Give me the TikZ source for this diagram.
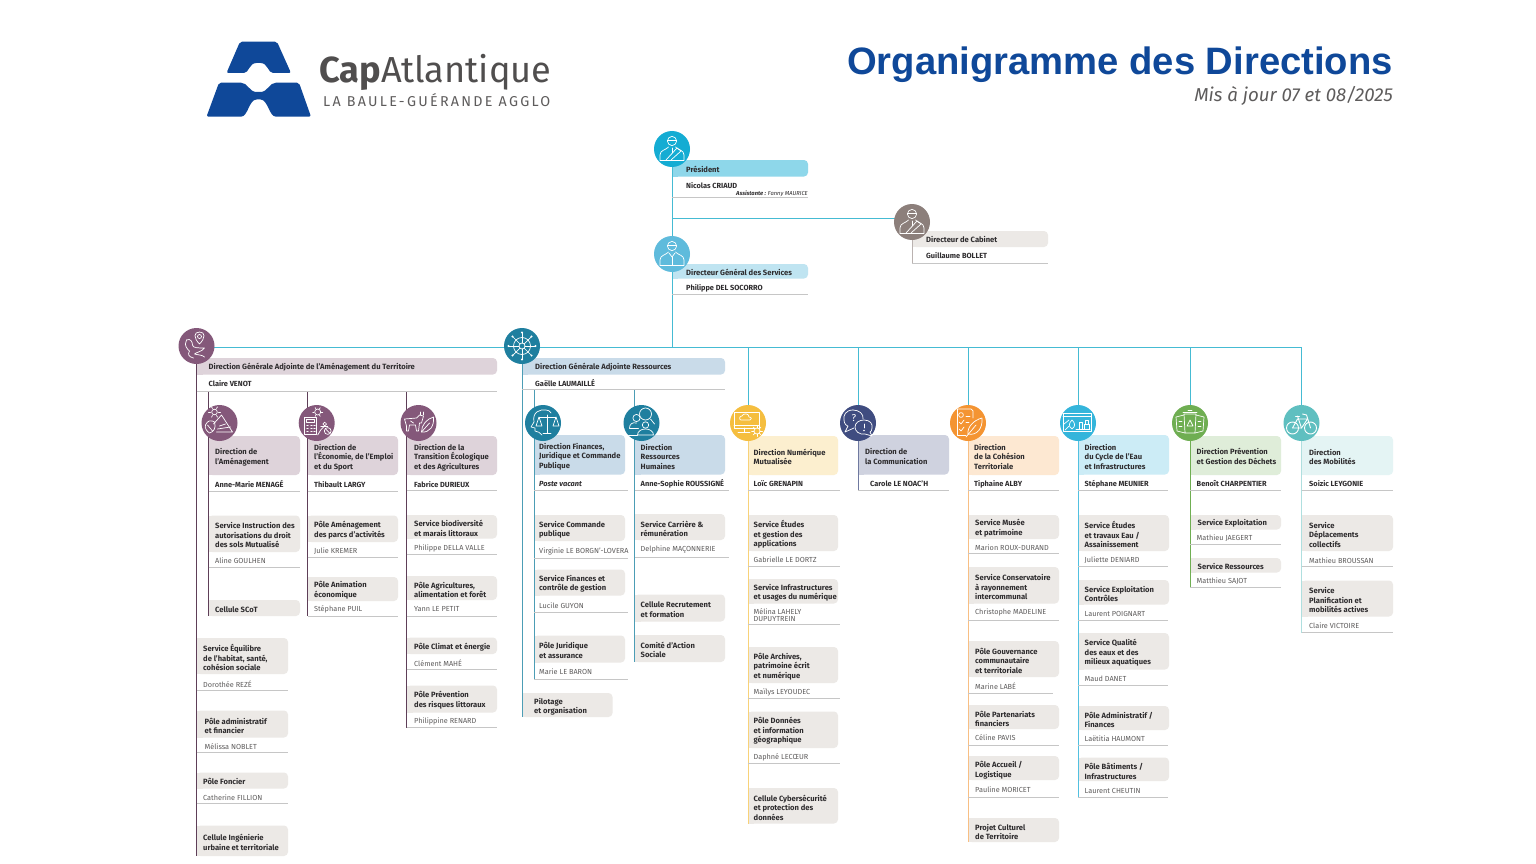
\documentclass[tikz,border=0pt]{standalone}
\usepackage{fontspec}
\setmainfont{Fira Sans}
\newfontfamily\titlefont{Liberation Sans}
\usetikzlibrary{calc}
\pgfdeclarelayer{boxes}
\pgfdeclarelayer{lines}
\pgfsetlayers{boxes,lines,main}
\definecolor{ink}{HTML}{2E2C2E}
\definecolor{soft}{HTML}{5E5C5C}
\definecolor{rulec}{HTML}{C6C6C6}
\definecolor{svc}{HTML}{ECE9E6}
\definecolor{brand}{HTML}{0F4899}
\definecolor{conn}{HTML}{45BBD3}
\definecolor{plum}{HTML}{84587A}
\definecolor{plumd}{HTML}{5E3F58}
\definecolor{plumb}{HTML}{DED3DA}
\definecolor{blueb}{HTML}{C9DBE9}
\definecolor{bluec}{HTML}{1F7F9F}
\definecolor{bluel}{HTML}{4C9DB5}
\tikzset{
  circ/.style={circle,minimum size=36pt,inner sep=0pt,draw=none},
  txt/.style={anchor=west,align=left,inner sep=0pt,yshift=-.6pt,text=ink,font=\fontsize{7.6}{9.5}\selectfont\bfseries},
  per/.style={anchor=west,align=left,inner sep=0pt,yshift=-.5pt,text=soft,font=\fontsize{7.3}{7.6}\selectfont},
  boss/.style={anchor=west,align=left,inner sep=0pt,yshift=-.5pt,text=ink,font=\fontsize{7.4}{7.6}\selectfont\bfseries},
  rulel/.style={draw=rulec,line width=.8pt},
  vline/.style={line width=1pt},
  icon/.style={draw=white,line width=.7pt,line join=round,line cap=round},
}
\newcount\nid
\newcommand\nextid{\global\advance\nid by 1 }
\newcommand\setcol[4]{\def\bl{#1}\def\br{#2}\def\tx{#3}\def\rr{#4}}
\newcommand\bx[5]{% col y1 y2 tc text
  \begin{pgfonlayer}{boxes}
    \fill[#1,rounded corners=4pt] (\bl,#2) rectangle (\br,#3);
    \fill[#1] (\bl,#2) rectangle ({\bl+6},#3);
  \end{pgfonlayer}
  \nextid\node[txt] (t\the\nid) at (\tx,#4) {#5};
}
\newcommand\sv[4]{\bx{svc}{#1}{#2}{#3}{#4}}
\newcommand\who[3]{\nextid\node[per] (t\the\nid) at (\tx,#2) {#1};
  \draw[rulel] (\bl,#3) -- (\rr,#3);}
\newcommand\boss[3]{\nextid\node[boss] (t\the\nid) at (\tx,#2) {#1};
  \draw[rulel] (\bl,#3) -- (\rr,#3);}
% ---------- icons (drawn round the origin)
\newcommand\icperson[1]{%
  \draw[icon] (0,-8) circle (4.6);
  \draw[icon] (-4.6,-8.5) -- (4.6,-8.5);
  \draw[icon] (-12,11) -- (-12,6) .. controls (-12,1) and (-6,1) .. (-3.5,-2);
  \draw[icon] (12,11) -- (12,6) .. controls (12,1) and (6,1) .. (3.5,-2);
  \draw[icon] (-12,11) -- (12,11);
  #1
}
\newcommand\icsash{\draw[icon] (-6,11) -- (5,-1) -- (9,2) -- (-1,11);\draw[icon] (0,-1) -- (0,4);}
\newcommand\ictie{\draw[icon] (-3,-1) -- (0,3) -- (3,-1);\draw[icon] (0,3) -- (0,11);}
\newcommand\icpin{%
  \draw[icon] (3,-2) .. controls (-3,-8) and (-3,-14) .. (3,-14) .. controls (9,-14) and (9,-8) .. (3,-2);
  \draw[icon] (3,-9.5) circle (2);
  \draw[icon] (-10,-6) .. controls (-6,-8) and (-4,-4) .. (-4,-1) .. controls (-4,2) and (2,2) .. (8,2) .. controls (5,6) and (0,6) .. (-2,8) .. controls (2,9) and (6,9) .. (8,11);
  \draw[icon] (-10,-6) .. controls (-13,0) and (-9,3) .. (-7,5) .. controls (-9,8) and (-8,11) .. (-3,12);
}
\newcommand\icwheel{%
  \draw[icon] (0,0) circle (8.5); \draw[icon] (0,0) circle (3);
  \foreach \a in {0,45,...,315}{\draw[icon] (\a:3) -- (\a:13.5);\fill[white] (\a:13.5) circle (1.1);}
}
\newcommand\icleaf{%
  \draw[icon] (-14,2) .. controls (-12,-3) and (-8,-3) .. (-5,-1) .. controls (-3,5) and (-6,9) .. (-10,10) .. controls (-13,8) and (-15,5) .. (-14,2);
  \draw[icon] (-12,2) -- (-7,8);
  \draw[icon] (-6,1) -- (2,-8) -- (13,9) -- (-3,9);
  \draw[icon] (-5,-11) circle (2.8);
  \foreach \a in {0,60,...,300}{\draw[icon] ($(-5,-11)+(\a:4)$) -- ($(-5,-11)+(\a:6)$);}
  \draw[icon] (-2,6) -- (11,4);
  \draw[icon] (0,3) -- (6,1);
}
\newcommand\iccalc{%
  \draw[icon] (-12,-6) rectangle (0,11);
  \draw[icon] (-10,-4) rectangle (-2,-1);
  \foreach \x in {-10,-6,-3}{\foreach \y in {2,5,8}{\draw[icon] (\x,\y) -- (\x+1.5,\y);}}
  \draw[icon] (1,-11) circle (3);
  \foreach \a in {0,60,...,300}{\draw[icon] ($(1,-11)+(\a:3.6)$) -- ($(1,-11)+(\a:5)$);}
  \draw[icon] (8,1) circle (1.8);
  \draw[icon] (8,3) -- (4,7) -- (1,12);
  \draw[icon] (4,3) -- (11,3);
  \draw[icon] (11,8) circle (3.4);
  \draw[icon] (9,6) -- (13,10);
}
\newcommand\iccow{%
  \draw[icon] (-14,-4) -- (-2,-5) -- (1,-8) -- (5,-7) -- (3,0) -- (1,0) -- (0,8) -- (-2,8) -- (-3,2) -- (-9,2) -- (-10,8) -- (-12,8) -- (-12,3) -- cycle;
  \draw[icon] (-8,-2) -- (-5,0);
  \draw[icon] (2,-11) -- (2,-8);\draw[icon] (5,-11) -- (5,-8);
  \draw[icon] (3,9) .. controls (3,2) and (8,-4) .. (15,-6) .. controls (16,3) and (11,10) .. (3,9);
  \draw[icon] (3,9) -- (11,0);
}
\newcommand\icscale{%
  \draw[icon] (-1,12) .. controls (-3,9) and (-5,9) .. (-8,8) -- (-8,5) -- (-12,4) -- (-9,-1) .. controls (-11,-11) and (-3,-14) .. (3,-13) .. controls (5,-13) and (7,-12) .. (8,-10);
  \draw[icon] (4,-8) -- (4,10);
  \draw[icon] (-4,-6) -- (13,-6);
  \draw[icon] (-4,-6) -- (-7,3) -- (-1,3) -- cycle;
  \draw[icon] (13,-6) -- (10,3) -- (16,3) -- cycle;
  \draw[icon] (0,10) -- (8,10);
}
\newcommand\icsearch{%
  \draw[icon] (4,-9) circle (6);
  \draw[icon] (9,-4) -- (13,1);
  \draw[icon] (-5,-5) circle (3.6);
  \draw[icon] (-12,5) .. controls (-12,1) and (-9,-1) .. (-5,0);
  \draw[icon] (-12,5) -- (-3,5);
  \draw[icon] (4,2) circle (3.2);
  \draw[icon] (-4,12) .. controls (-4,8) and (0,6) .. (4,6) .. controls (8,6) and (12,8) .. (12,12) -- cycle;
  \draw[icon] (-13,12) -- (-4,12);
}
\newcommand\icscreen{%
  \draw[icon] (-14,-11) rectangle (11,5);
  \draw[icon] (-14,2) -- (11,2);
  \draw[icon] (-4,5) -- (-4,9); \draw[icon] (-10,9) -- (2,9);
  \draw[icon] (-7,-3) .. controls (-9,-3) and (-9,-7) .. (-6,-7) .. controls (-5,-10) and (1,-10) .. (1,-6) .. controls (4,-6) and (4,-3) .. (2,-3) -- cycle;
  \draw[icon,fill=cNu] (9,8) circle (3);
  \foreach \a in {0,45,...,315}{\draw[icon] ($(9,8)+(\a:3.4)$) -- ($(9,8)+(\a:5.4)$);}
}
\newcommand\icbubble{%
  \draw[icon] (-5,-13) .. controls (-12,-13) and (-15,-8) .. (-14,-3) .. controls (-14,1) and (-11,3) .. (-10,3) -- (-13,9) -- (-4,5);
  \draw[icon] (-5,-13) .. controls (1,-13) and (6,-9) .. (5,-4);
  \node[text=white,inner sep=0pt,font=\fontsize{10}{10}\selectfont] (qmark) at (-4,-5) {?};
  \draw[icon] (6,-3) .. controls (12,-3) and (15,1) .. (14,5) .. controls (14,7) and (13,9) .. (12,9) -- (14,13) -- (7,11) .. controls (1,12) and (-3,8) .. (-3,4) .. controls (-3,0) and (1,-3) .. (6,-3);
  \draw[icon] (6,1) -- (6,5); \fill[white] (6,7.5) circle (.8);
}
\newcommand\icdoc{%
  \draw[icon] (-11,-14) -- (3,-14) -- (5,-12) -- (5,-5);
  \draw[icon] (-11,-14) -- (-11,12) -- (-2,12);
  \draw[icon] (-7,-8) circle (2.4);
  \draw[icon] (-2,-7) -- (2,-7);
  \draw[icon] (-9,-1) -- (-7,1) -- (-4,-3); \draw[icon] (-2,-1) -- (1,-1);
  \draw[icon] (-9,6) -- (-7,8) -- (-4,4);
  \draw[icon] (0,11) .. controls (-1,4) and (6,-3) .. (14,-5) .. controls (15,5) and (9,13) .. (0,11);
  \draw[icon] (-2,14) -- (8,2);
}
\newcommand\icwater{%
  \draw[icon] (-15,-10) rectangle (13,8);
  \draw[icon] (-15,-7) -- (13,-7);
  \draw[icon] (-6,6) .. controls (-10,3) and (-9,0) .. (-6,-3) .. controls (-3,0) and (-2,3) .. (-6,6);
  \draw[icon] (-13,7) -- (-9,3);\draw[icon] (-14,1) -- (-9,-3);
  \draw[icon] (1,6) -- (1,-1) -- (4,-1) -- (4,6);
  \draw[icon] (6,6) rectangle (11,1);
  \draw[icon] (7,1) -- (7,-3) -- (10,-3) -- (10,1);
  \draw[icon] (-2,6) -- (12,6);
}
\newcommand\icbins{%
  \draw[icon] (-6,-9) -- (6,-9) -- (5,10) -- (-5,10) -- cycle;
  \draw[icon] (-7,-11) -- (7,-11); \draw[icon] (-2,-13) -- (2,-13);
  \draw[icon] (-6,-8) -- (-14,-6) -- (-13,8) -- (-5,10);
  \draw[icon] (6,-8) -- (14,-6) -- (13,8) -- (5,10);
  \draw[icon] (-3,3) -- (0,-3) -- (3,3) -- cycle;
  \draw[icon] (-11,-2) -- (-8,-2); \draw[icon] (8,-2) -- (11,-2);
  \draw[icon] (-11,3) -- (-8,3); \draw[icon] (8,3) -- (11,3);
}
\newcommand\icbike{%
  \draw[icon,line width=.9pt] (-9,5) circle (6); \draw[icon,line width=.9pt] (9,5) circle (6);
  \draw[icon,line width=.9pt] (-9,5) -- (-4,-4) -- (6,-4) -- (0,5) -- cycle;
  \draw[icon,line width=.9pt] (9,5) -- (5,-8) -- (1,-9);
  \draw[icon,line width=.9pt] (-6,-7) -- (-2,-7);\draw[icon,line width=.9pt] (-4,-7) -- (0,5);
}
\newcommand\putic[2]{\begin{scope}[shift={(#1.center)}]#2\end{scope}}
\begin{document}
\begin{tikzpicture}[x=1pt,y=-1pt]
\useasboundingbox (0,0) rectangle (1536,864);
\begin{pgfonlayer}{boxes}
\fill[white] (0,0) rectangle (1536,864);
\end{pgfonlayer}
% ---------- logo
\fill[brand,rounded corners=2pt] (240,41.7) -- (277,41.7) -- (291,73) -- (275,73)
   .. controls (268,73) and (268,63) .. (258.5,63) .. controls (249,63) and (249,73) .. (242,73) -- (226.5,73) -- cycle;
\fill[brand,rounded corners=2pt] (219,82.7) -- (239,82.7) .. controls (248,82.7) and (249,92) .. (258.5,92)
   .. controls (268,92) and (269,82.7) .. (278,82.7) -- (299,82.7) -- (311,116.7) -- (278,116.7)
   .. controls (269,116.7) and (268,99.5) .. (258.5,99.5) .. controls (249,99.5) and (248,116.7) .. (239,116.7) -- (206.5,116.7) -- cycle;
\node[anchor=base west,inner sep=0pt,text=soft!85!black,font=\fontsize{36.2}{37}\selectfont] (logoa) at (319,83) {\textbf{Cap}Atlantique};
\node[anchor=base west,inner sep=0pt,text=soft,font=\fontsize{14.3}{15}\selectfont,
      ] (logob) at (323,106.5) {\addfontfeatures{LetterSpace=16}LA BAULE-GUÉRANDE AGGLO};
% ---------- title
\node[anchor=base east,inner sep=0pt,text=brand,font=\fontsize{38.2}{40}\selectfont\titlefont\bfseries] (title) at (1393,75) {Organigramme des Directions};
\node[anchor=base east,inner sep=0pt,text=soft,font=\fontsize{18.7}{19}\selectfont\itshape] (sub) at (1393,102) {Mis à jour 07 et 08/2025};
% ---------- junction points
\coordinate (busL) at (196.5,347);
\coordinate (busR) at (1301.5,347);
\coordinate (jctCab) at (672,218);
% ---------- circles
\definecolor{cPr}{HTML}{14ACD3}\definecolor{cDg}{HTML}{5FBBDC}\definecolor{cCa}{HTML}{8C7F7B}
\definecolor{cNu}{HTML}{F5BE3F}\definecolor{cCo}{HTML}{3F4C80}\definecolor{cCh}{HTML}{F49432}
\definecolor{cCy}{HTML}{34B5DB}\definecolor{cDe}{HTML}{6FAE52}\definecolor{cMo}{HTML}{5FBFC0}
\node[circ,fill=cPr] (cPres) at (672,149) {};
\node[circ,fill=cDg] (cDgs) at (672,254) {};
\node[circ,fill=cCa] (cCab) at (912,222) {};
\node[circ,fill=plum] (cDgaT) at (196.5,346) {};
\node[circ,fill=bluec] (cDgaR) at (522,346) {};
\node[circ,fill=plum] (cAm) at (219.5,423) {};
\node[circ,fill=plum] (cEc) at (316.7,423) {};
\node[circ,fill=plum] (cTr) at (418.5,423) {};
\node[circ,fill=bluec] (cFi) at (543,423) {};
\node[circ,fill=bluec] (cRh) at (641.5,423) {};
\node[circ,fill=cNu] (cNum) at (748,423) {};
\node[circ,fill=cCo] (cCom) at (858,423) {};
\node[circ,fill=cCh] (cCoh) at (968,423) {};
\node[circ,fill=cCy] (cCyc) at (1078,423) {};
\node[circ,fill=cDe] (cDec) at (1190,423) {};
\node[circ,fill=cMo] (cMob) at (1301.5,423) {};
\putic{cPres}{\icperson{\icsash}}
\putic{cDgs}{\icperson{\ictie}}
\putic{cCab}{\icperson{\icsash}}
\putic{cDgaT}{\icpin}
\putic{cDgaR}{\icwheel}
\putic{cAm}{\icleaf}
\putic{cEc}{\iccalc}
\putic{cTr}{\iccow}
\putic{cFi}{\icscale}
\putic{cRh}{\icsearch}
\putic{cNum}{\icscreen}
\putic{cCom}{\icbubble}
\putic{cCoh}{\icdoc}
\putic{cCyc}{\icwater}
\putic{cDec}{\icbins}
\putic{cMob}{\icbike}
% ---------- top
\setcol{672}{808}{686}{808}
\bx{cPr!48}{160}{176.5}{168.8}{Président}
\boss{Nicolas CRIAUD}{184.8}{197}
\nextid\node[anchor=east,inner sep=0pt,text=ink,font=\fontsize{5.8}{6}\selectfont\itshape] (t\the\nid) at (808,194) {\textbf{Assistante :} Fanny MAURICE};
\bx{cDg!40}{264}{278.5}{271.8}{Directeur Général des Services}
\boss{Philippe DEL SOCORRO}{287.5}{294.5}
\setcol{912}{1048}{926}{1048}
\sv{231}{247}{239.3}{Directeur de Cabinet}
\boss{Guillaume BOLLET}{254.8}{263}
% ---------- DGA territoire
\setcol{196.5}{497}{208.5}{497}
\bx{plumb}{358}{374.5}{366.8}{Direction Générale Adjointe de l’Aménagement du Territoire}
\boss{Claire VENOT}{383.5}{391}
\setcol{208.5}{300}{215}{300}
\bx{plumb}{436}{475}{456.7}{Direction de\\l’Aménagement}
\boss{Anne-Marie MENAGÉ}{484}{491}
\sv{515.5}{552}{534.7}{Service Instruction des\\autorisations du droit\\des sols Mutualisé}
\who{Aline GOULHEN}{560.5}{567.5}
\sv{600}{616}{608.7}{Cellule SCoT}
\setcol{307.5}{398}{314}{398}
\bx{plumb}{436}{475}{457}{Direction de\\l’Économie, de l’Emploi\\et du Sport}
\boss{Thibault LARGY}{484}{491}
\sv{515.5}{542}{529.7}{Pôle Aménagement\\des parcs d’activités}
\who{Julie KREMER}{550.5}{557.5}
\sv{577}{601}{589.5}{Pôle Animation\\économique}
\who{Stéphane PUIL}{608.5}{616}
\setcol{406.5}{497}{414}{497}
\bx{plumb}{436}{475}{457}{Direction de la\\Transition Écologique\\et des Agricultures}
\boss{Fabrice DURIEUX}{484}{490.5}
\sv{515}{538.5}{527.7}{Service biodiversité\\et marais littoraux}
\who{Philippe DELLA VALLE}{548}{554}
\sv{576}{600}{589.5}{Pôle Agricultures,\\alimentation et forêt}
\who{Yann LE PETIT}{608.5}{616}
\sv{637.5}{654}{646.8}{Pôle Climat et énergie}
\who{Clément MAHÉ}{663}{669.5}
\sv{685.5}{712.5}{699.7}{Pôle Prévention\\des risques littoraux}
\who{Philippine RENARD}{721}{727.5}
\setcol{196.5}{288}{203}{288}
\sv{638}{674}{657}{Service Équilibre\\de l’habitat, santé,\\cohésion sociale}
\who{Dorothée REZÉ}{683.5}{690}
\def\tx{204.5}
\sv{710.5}{737.5}{725.2}{Pôle administratif\\et financier}
\who{Mélissa NOBLET}{746}{752.5}
\def\tx{203}
\sv{772.5}{788.5}{781.2}{Pôle Foncier}
\who{Catherine FILLION}{797}{803.5}
\sv{825.5}{856}{841.7}{Cellule Ingénierie\\urbaine et territoriale}
% ---------- DGA ressources
\setcol{522}{725}{535}{725}
\bx{blueb}{358}{374.5}{366.8}{Direction Générale Adjointe Ressources}
\boss{Gaëlle LAUMAILLÉ}{383}{389.5}
\setcol{534}{625}{539}{628}
\bx{blueb}{435}{474.5}{456}{Direction Finances,\\Juridique et Commande\\Publique}
\nextid\node[boss,font=\fontsize{7.4}{7.6}\selectfont\bfseries\itshape] (t\the\nid) at (\tx,483) {Poste vacant};
\draw[rulel] (\bl,490.5) -- (\rr,490.5);
\sv{515}{541}{529.2}{Service Commande\\publique}
\who{Virginie LE BORGN’-LOVERA}{550.5}{558}
\sv{569.5}{595.5}{583.2}{Service Finances et\\contrôle de gestion}
\who{Lucile GUYON}{605}{612.5}
\sv{635.5}{662.5}{649.7}{Pôle Juridique\\et assurance}
\who{Marie LE BARON}{671}{679}
\setcol{522}{612.5}{534}{612.5}
\sv{693}{717}{706.2}{Pilotage\\et organisation}
\setcol{634.5}{725}{640.5}{729}
\bx{blueb}{435}{474.5}{456}{Direction\\Ressources\\Humaines}
\boss{Anne-Sophie ROUSSIGNÉ}{483}{490.5}
\sv{514}{540}{528.2}{Service Carrière \&\\rémunération}
\who{Delphine MAÇONNERIE}{549.5}{557.5}
\sv{594.5}{621.5}{609.2}{Cellule Recrutement\\et formation}
\sv{635}{662}{649.2}{Comité d’Action\\Sociale}
% ---------- Numérique
\setcol{748}{838}{753.5}{839.5}
\bx{cNu!25}{436}{475}{456.2}{Direction Numérique\\Mutualisée}
\boss{Loïc GRENAPIN}{483.5}{490.5}
\sv{515}{551}{534}{Service Études\\et gestion des\\applications}
\who{Gabrielle LE DORTZ}{559.5}{566.5}
\sv{579}{603.5}{592.2}{Service Infrastructures\\et usages du numérique}
\who{Mélina LAHELY\\DUPUYTREIN}{614.8}{624.5}
\sv{647}{683}{666}{Pôle Archives,\\patrimoine écrit\\et numérique}
\who{Maïlys LEYOUDEC}{692}{698.5}
\sv{711.5}{748}{730.5}{Pôle Données\\et information\\géographique}
\who{Daphné LECŒUR}{756.5}{763}
\sv{788}{823.5}{807}{Cellule Cybersécurité\\et protection des\\données}
% ---------- Communication
\setcol{858}{949}{865}{949}
\bx{cCo!25}{435}{474.5}{455.7}{Direction de\\la Communication}
\def\tx{870}
\boss{Carole LE NOAC’H}{483.5}{490.5}
% ---------- Cohésion
\setcol{968}{1059}{974}{1059}
\bx{cCh!22}{436}{475}{456.2}{Direction\\de la Cohésion\\Territoriale}
\boss{Tiphaine ALBY}{483.5}{490.5}
\def\tx{975}
\sv{515}{539}{527.7}{Service Musée\\et patrimoine}
\who{Marion ROUX-DURAND}{547.5}{553.5}
\sv{567}{603.5}{586.5}{Service Conservatoire\\à rayonnement\\intercommunal}
\who{Christophe MADELINE}{612}{620}
\sv{641}{677}{660}{Pôle Gouvernance\\communautaire\\et territoriale}
\def\rr{1053}
\who{Marine LABÉ}{686}{693.5}
\def\rr{1059}
\sv{705}{729}{718.2}{Pôle Partenariats\\financiers}
\who{Céline PAVIS}{737.5}{745}
\sv{756}{780}{769.7}{Pôle Accueil /\\Logistique}
\who{Pauline MORICET}{789.5}{797.5}
\sv{818}{842}{831.2}{Projet Culturel\\de Territoire}
% ---------- Cycle
\setcol{1078}{1169}{1084.5}{1168}
\bx{cCy!25}{435}{474.5}{456}{Direction\\du Cycle de l’Eau\\et Infrastructures}
\boss{Stéphane MEUNIER}{483.5}{490}
\sv{515}{551}{534}{Service Études\\et travaux Eau /\\Assainissement}
\who{Juliette DENIARD}{559.5}{566.5}
\sv{580}{604.5}{593.2}{Service Exploitation\\Contrôles}
\who{Laurent POIGNART}{613}{620}
\sv{633}{669.5}{652.5}{Service Qualité\\des eaux et des\\milieux aquatiques}
\who{Maud DANET}{678.5}{685.5}
\sv{706}{730}{719.2}{Pôle Administratif /\\Finances}
\who{Laëtitia HAUMONT}{738.5}{745.5}
\sv{757.5}{781}{770.7}{Pôle Bâtiments /\\Infrastructures}
\who{Laurent CHEUTIN}{790}{797}
% ---------- Déchets
\setcol{1190}{1281}{1196.5}{1281}
\bx{cDe!22}{436}{475}{455.7}{Direction Prévention\\et Gestion des Déchets}
\boss{Benoît CHARPENTIER}{483}{490}
\def\tx{1197.5}
\sv{515}{529.5}{522.8}{Service Exploitation}
\def\tx{1196.5}
\who{Mathieu JAEGERT}{538}{544.5}
\def\tx{1197.5}
\sv{558}{572.5}{565.8}{Service Ressources}
\def\tx{1196.5}
\who{Matthieu SAJOT}{581}{587.5}
% ---------- Mobilités
\setcol{1301.5}{1393}{1309}{1393}
\bx{cMo!17}{436}{475}{456.2}{Direction\\des Mobilités}
\boss{Soizic LEYGONIE}{483.5}{490.5}
\sv{515}{551}{534}{Service\\Déplacements\\collectifs}
\who{Mathieu BROUSSAN}{560}{566.5}
\sv{580.5}{616.5}{599.5}{Service\\Planification et\\mobilités actives}
\who{Claire VICTOIRE}{625.5}{632.5}
% ---------- connectors
\coordinate (endDgaT) at (196.5,856);
\coordinate (endAm) at (208.5,616);
\coordinate (endEc) at (307.5,616);
\coordinate (endTr) at (406.5,727.5);
\coordinate (topAm) at (208.5,391);
\coordinate (topEc) at (307.5,391);
\coordinate (topTr) at (406.5,391);
\coordinate (endDgaR) at (522,717);
\coordinate (topFi) at (534,389.5);
\coordinate (endFi) at (534,679);
\coordinate (topRh) at (634.5,389.5);
\coordinate (endRh) at (634.5,662);
\coordinate (endNum) at (748,823.5);
\coordinate (endCom) at (858,490.5);
\coordinate (endCoh) at (968,842);
\coordinate (endCyc) at (1078,797);
\coordinate (endDec) at (1190,587.5);
\coordinate (endMob) at (1301.5,632.5);
\coordinate (endCab) at (912,263);
\begin{pgfonlayer}{lines}
  \draw[conn,vline] (cPres) -- (cPres |- busL);
  \draw[conn,vline] (busL) -- (busR);
  \draw[conn,vline] (jctCab) -- (jctCab -| cCab);
  \draw[cCa!60,vline] (cCab) -- (endCab);
  \draw[plumd,vline] (cDgaT) -- (endDgaT);
  \draw[plumd,vline] (topAm) -- (endAm);
  \draw[plumd,vline] (topEc) -- (endEc);
  \draw[plumd,vline] (topTr) -- (endTr);
  \draw[bluel,vline] (cDgaR) -- (endDgaR);
  \draw[bluel,vline] (topFi) -- (endFi);
  \draw[bluel,vline] (topRh) -- (endRh);
  \draw[conn,vline] (cNum |- busL) -- (cNum);
  \draw[conn,vline] (cCom |- busL) -- (cCom);
  \draw[conn,vline] (cCoh |- busL) -- (cCoh);
  \draw[conn,vline] (cCyc |- busL) -- (cCyc);
  \draw[conn,vline] (cDec |- busL) -- (cDec);
  \draw[conn,vline] (cMob |- busL) -- (cMob);
  \draw[cNu!70,vline] (cNum) -- (endNum);
  \draw[cCo!75,vline] (cCom) -- (endCom);
  \draw[cCh!60,vline] (cCoh) -- (endCoh);
  \draw[cCy!85,vline] (cCyc) -- (endCyc);
  \draw[cDe,vline] (cDec) -- (endDec);
  \draw[cMo!50,vline] (cMob) -- (endMob);
\end{pgfonlayer}
\end{tikzpicture}
\end{document}
